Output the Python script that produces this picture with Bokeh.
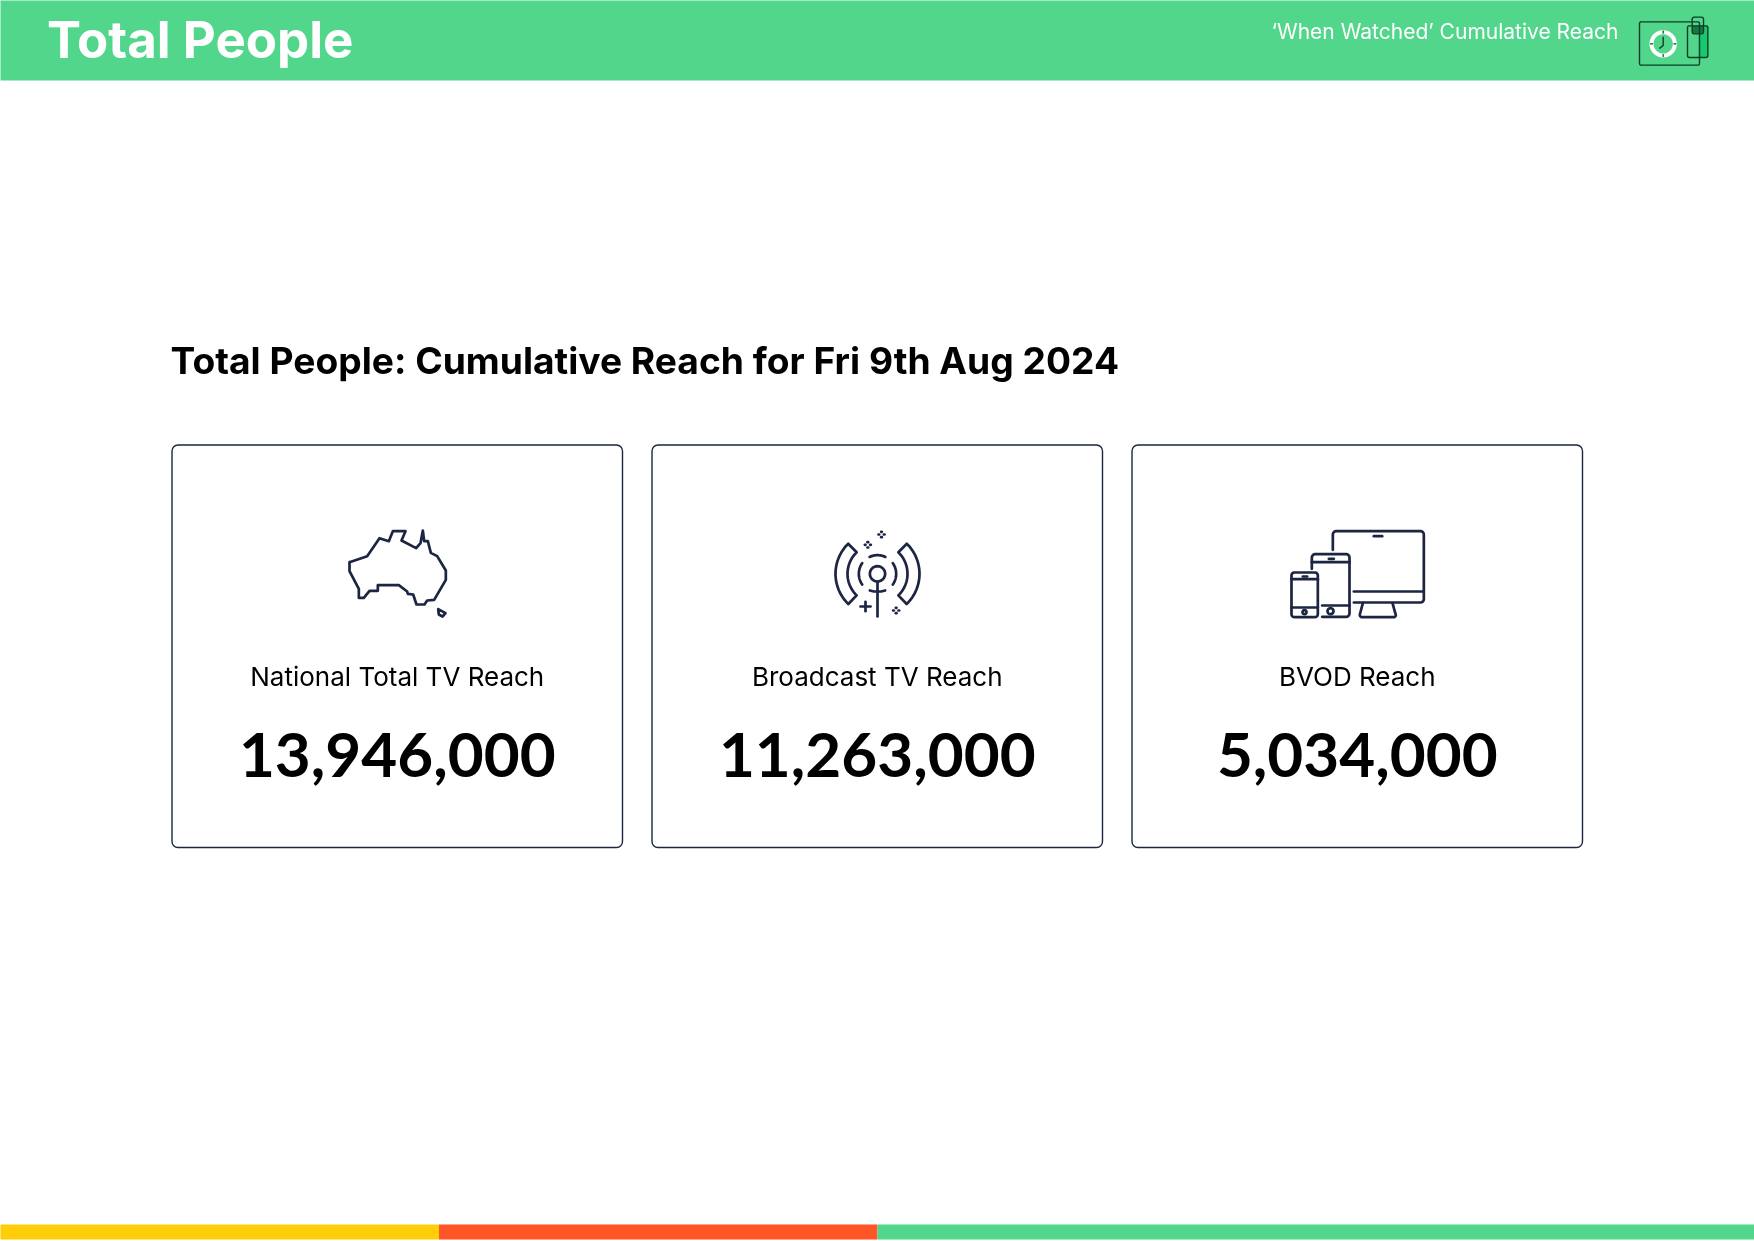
import numpy as np
from bokeh.core.properties import value
from bokeh.embed import file_html
from bokeh.models import ColumnDataSource, Range1d
from bokeh.plotting import figure
from bokeh.resources import INLINE

# ---- content ----
page_title = "Total People"
page_subtitle = "‘When Watched’ Cumulative Reach"
section_title = "Total People: Cumulative Reach for Fri 9th Aug 2024"
card_labels = ["National Total TV Reach", "Broadcast TV Reach", "BVOD Reach"]
card_values = [13946000, 11263000, 5034000]

# ---- style ----
GREEN = "#52D68B"
YELLOW = "#FDCD0A"
ORANGE = "#FF5527"
NAVY = "#1C2541"
FONT = "Inter"

W, H = 1754, 1241
p = figure(width=W, height=H, output_backend="svg", toolbar_location=None,
           x_range=Range1d(0, W), y_range=Range1d(H, 0), min_border=0,
           x_axis_location=None, y_axis_location=None, outline_line_color=None,
           background_fill_color="white", border_fill_color="white")
p.grid.visible = False
p.styles = {"position": "fixed", "left": "0", "top": "0"}

# bands
p.quad(left=[-5], right=[W + 5], top=[-5], bottom=[80], fill_color=GREEN, line_color=None)
p.quad(left=[-5, 438.5, 877], right=[438.5, 877, W + 5], top=[1224] * 3, bottom=[1239] * 3,
       fill_color=[YELLOW, ORANGE, GREEN], line_color=None)

# cards
card_left = np.array([171.5, 651.5, 1131.5])
card_right = card_left + 450.5
p.quad(left=card_left, right=card_right, top=[444.5] * 3, bottom=[847] * 3,
       fill_color="white", line_color=NAVY, line_width=1.4, border_radius=6)
centers = (card_left + card_right) / 2


def txt(x, y, s, size, color, align="left", style="bold", font=FONT):
    src = ColumnDataSource(dict(x=x, y=y, s=s))
    p.text("x", "y", "s", source=src, text_font=value(font), text_font_size=size, text_color=color,
           text_align=align, text_baseline="middle", text_font_style=style)


txt([46.5], [39], [page_title], "51px", "white")
txt([1271], [30.5], [page_subtitle], "21px", "white", style="normal")
txt([170], [360], [section_title], "37.2px", "black")
txt(centers, [676] * 3, card_labels, "26px", "black", "center", style="normal")
txt(centers, [754] * 3, [f"{v:,}" for v in card_values], "62px", "black", "center", font="Lato")


def Z(pts, ox, oy):
    a = np.array(pts, dtype=float)
    return list(a[:, 0] / 3 + ox), list(a[:, 1] / 3 + oy)


def arc(cx, cy, r, a0, a1, n=24):
    t = np.radians(np.linspace(a0, a1, n))
    return list(zip(cx + r * np.cos(t), cy + r * np.sin(t)))


def rrect(x0, y0, x1, y1, r):
    return (arc(x1 - r, y0 + r, r, -90, 0, 6) + arc(x1 - r, y1 - r, r, 0, 90, 6)
            + arc(x0 + r, y1 - r, r, 90, 180, 6) + arc(x0 + r, y0 + r, r, 180, 270, 6)
            + [(x1 - r, y0)])


def draw(paths, ox, oy, color=NAVY, width=2.7):
    xs, ys = zip(*[Z(q, ox, oy) for q in paths])
    p.multi_line(list(xs), list(ys), line_color=color, line_width=width,
                 line_join="round", line_cap="round")


# Australia
aus = [(87,155),(140,137),(177,83),(205,92),(217,62),(255,62),(243,90),(287,113),(300,98),(307,60),
       (311,92),(322,92),(331,127),(350,137),(376,180),(376,208),(341,268),(320,270),(312,282),
       (288,282),(278,252),(262,250),(260,243),(235,224),(172,224),(172,241),(147,241),(130,262),
       (115,262),(115,235),(87,182),(87,155)]
tas = [(353,296),(375,308),(366,318),(355,312),(353,296)]
draw([aus, tas], 320, 510)

# Broadcast
c = (201, 190)
dots = []
for dx, dy in [(213,72),(172,103),(257,300)]:
    for ax, ay in [(0,-8),(0,8),(-8,0),(8,0)]:
        dots.append([(dx+ax-1,dy+ay),(dx+ax+1,dy+ay)])
band_l = arc(*c, 126, 226, 134) + arc(*c, 90, 134, 226) + [(113,100)]
band_r = [(2*c[0]-x, y) for x, y in band_l]
draw([band_l, band_r,
      arc(*c, 23, 0, 360),
      arc(*c, 56, 245, 295), arc(*c, 56, 145, 215), arc(*c, 56, -35, 35),
      [(201,213),(201,318)],
      [(178,240),(190,243),(212,243),(224,240)],
      [(150,288),(180,288)], [(165,274),(165,302)]] + dots, 810, 510)

# Devices
draw([[(187,118),(187,72)] + arc(197,72,10,180,270,5) + arc(450,72,10,270,360,5) + arc(450,266,10,0,90,5) + [(250,276)],
      [(250,243),(458,243)], [(310,77),(335,77)],
      [(277,278),(268,312)] + arc(274,314,6,180,90,4) + arc(370,314,6,90,0,4) + [(366,278)],
      [(124,175),(124,141)] + arc(134,141,10,180,270,5) + arc(227,141,10,270,360,5) + arc(227,309,10,0,90,5) + [(155,319)],
      [(124,155),(237,155)], [(175,145),(190,145)], [(155,285),(237,285)], arc(180,302,9,0,360),
      rrect(63,186,142,320,9), [(63,206),(142,206)], [(63,291),(142,291)], [(97,198),(110,198)],
      arc(102,305,6,0,360)], 1270, 510)

# Header pictogram
DK = "#0F3D26"
xs, ys = Z([(1375,76),(1402,76),(1402,171),(1375,171)], 1240, 0)
p.patch(xs, ys, fill_color="#15C96F", line_color=None)
xs, ys = Z([(1355,76),(1389,76),(1389,100),(1355,100)], 1240, 0)
p.patch(xs, ys, fill_color="#137A45", line_color=None)
xs, ys = Z(arc(1268,130,35,0,360,60), 1240, 0)
p.line(xs, ys, line_color="white", line_width=4)
draw([rrect(1197,64,1377,194,5), rrect(1341,76,1402,171,5), rrect(1355,50,1389,100,6),
      [(1268,110),(1268,135),(1258,143)]], 1240, 0, DK, 1.4)
draw([[(1268,92),(1268,98)], [(1268,162),(1268,168)], [(1230,130),(1236,130)], [(1300,130),(1306,130)]], 1240, 0, DK, 1.2)

open("out.html", "w").write(file_html(p, INLINE))
